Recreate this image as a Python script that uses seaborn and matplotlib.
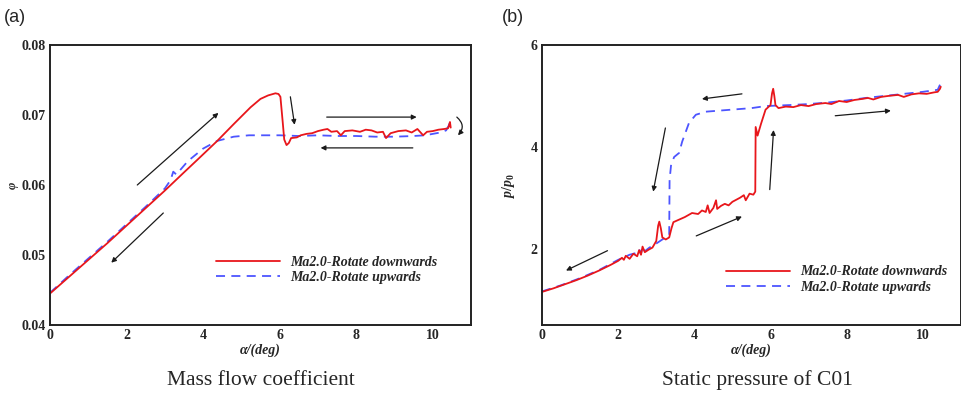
import numpy as np
import pandas as pd
import matplotlib
matplotlib.use("Agg")
import matplotlib.pyplot as plt
from matplotlib.ticker import MultipleLocator, FormatStrFormatter
from matplotlib.lines import Line2D
import seaborn as sns

# ---------------- data ----------------
# (a) mass flow coefficient
a_down_x = [0.0, 0.5, 1.0, 1.5, 2.0, 2.5, 3.0, 3.5, 3.85, 4.37, 4.8, 5.24, 5.5, 5.7, 5.89,
            5.97, 6.02, 6.08, 6.12, 6.18, 6.24, 6.3, 6.45, 6.55, 6.7, 6.85, 7.0, 7.15, 7.25,
            7.35, 7.5, 7.6, 7.7, 7.9, 8.1, 8.25, 8.4, 8.55, 8.7, 8.78, 8.9, 9.1, 9.3, 9.45,
            9.6, 9.75, 9.85, 10.0, 10.15, 10.3, 10.4, 10.42, 10.45, 10.47]
a_down_y = [0.0445, 0.0469, 0.0493, 0.0517, 0.0542, 0.0567, 0.0592, 0.0618, 0.0636, 0.0663,
            0.0687, 0.0711, 0.0723, 0.0728, 0.0731, 0.0730, 0.0726, 0.0690, 0.0665, 0.0657,
            0.0660, 0.0667, 0.0668, 0.0671, 0.0673, 0.0674, 0.0677, 0.0679, 0.0680, 0.0676,
            0.0677, 0.0671, 0.0677, 0.0678, 0.0676, 0.0679, 0.0678, 0.0675, 0.0676, 0.0667,
            0.0674, 0.0677, 0.0678, 0.0675, 0.0680, 0.0671, 0.0676, 0.0677, 0.0679, 0.0680,
            0.0681, 0.0684, 0.0690, 0.0682]
a_up_x = [0.0, 0.5, 1.0, 1.5, 2.0, 2.5, 3.0, 3.15, 3.22, 3.3, 3.6, 4.0, 4.37, 4.8, 5.2, 5.6,
          6.0, 6.5, 7.0, 7.5, 8.0, 8.5, 9.0, 9.5, 9.8, 10.0, 10.2, 10.35, 10.42, 10.45]
a_up_y = [0.0446, 0.0471, 0.0495, 0.0519, 0.0544, 0.0569, 0.0595, 0.0607, 0.0619, 0.0615,
          0.0634, 0.0652, 0.0663, 0.0669, 0.0671, 0.0671, 0.0671, 0.0670, 0.0671, 0.0670,
          0.0670, 0.0669, 0.0669, 0.0670, 0.0671, 0.0673, 0.0675, 0.0678, 0.0685, 0.0693]

# (b) static pressure of C01
b_down_x = [0.0, 0.3, 0.6, 0.9, 1.2, 1.5, 1.8, 2.0, 2.1, 2.15, 2.2, 2.3, 2.4, 2.5, 2.55, 2.6,
            2.64, 2.7, 2.8, 2.9, 3.0, 3.05, 3.08, 3.12, 3.16, 3.25, 3.34, 3.4, 3.45, 3.6,
            3.75, 3.94, 4.1, 4.2, 4.3, 4.35, 4.4, 4.5, 4.57, 4.6, 4.7, 4.8, 4.9, 5.0, 5.1,
            5.2, 5.3, 5.35, 5.45, 5.55, 5.6, 5.61, 5.66, 5.75, 5.87, 6.0, 6.04, 6.07, 6.1,
            6.13, 6.21, 6.4, 6.6, 6.8, 7.0, 7.2, 7.44, 7.6, 7.8, 8.0, 8.2, 8.4, 8.56, 8.7,
            8.9, 9.1, 9.35, 9.5, 9.7, 9.9, 10.1, 10.3, 10.39, 10.45, 10.47]
b_down_y = [1.15, 1.22, 1.30, 1.38, 1.47, 1.57, 1.68, 1.76, 1.82, 1.78, 1.86, 1.80, 1.90, 1.85,
            1.97, 1.88, 2.04, 1.93, 1.98, 2.02, 2.15, 2.45, 2.53, 2.40, 2.22, 2.18, 2.22, 2.40,
            2.52, 2.57, 2.62, 2.70, 2.68, 2.75, 2.72, 2.85, 2.70, 2.80, 2.95, 2.78, 2.84, 2.88,
            2.85, 2.92, 2.96, 3.00, 3.05, 2.95, 3.08, 3.06, 3.12, 4.39, 4.22, 4.45, 4.73, 4.82,
            5.05, 5.14, 5.00, 4.82, 4.76, 4.79, 4.78, 4.82, 4.80, 4.84, 4.86, 4.84, 4.90, 4.88,
            4.92, 4.94, 4.96, 4.93, 4.98, 5.00, 5.02, 4.98, 5.03, 5.05, 5.04, 5.07, 5.08, 5.14,
            5.18]
b_up_x = [0.0, 0.5, 1.0, 1.5, 2.0, 2.3, 2.5, 2.55, 2.6, 2.64, 2.7, 2.82, 3.0, 3.2, 3.34, 3.35,
          3.39, 3.47, 3.6, 3.68, 3.86, 4.04, 4.30, 4.98, 5.5, 5.87, 6.5, 7.0, 7.5, 8.0, 8.5,
          9.0, 9.5, 10.0, 10.39, 10.45]
b_up_y = [1.16, 1.28, 1.42, 1.58, 1.78, 1.88, 1.92, 1.99, 1.90, 2.04, 1.95, 2.02, 2.10, 2.20,
          2.27, 3.35, 3.65, 3.80, 3.88, 4.10, 4.47, 4.63, 4.69, 4.73, 4.76, 4.80, 4.82, 4.84,
          4.87, 4.91, 4.96, 5.00, 5.04, 5.08, 5.12, 5.22]

series_names = ["Ma2.0-Rotate downwards", "Ma2.0-Rotate upwards"]
panel_titles = ["Mass flow coefficient", "Static pressure of C01"]
panel_tags = ["(a)", "(b)"]

# annotation arrows: (start, end)
a_arrows = [((2.28, 0.0600), (4.40, 0.0703)), ((2.96, 0.0560), (1.60, 0.0489)),
            ((6.28, 0.0726), (6.39, 0.0686)), ((7.23, 0.0697), (9.58, 0.0697)),
            ((9.48, 0.0653), (7.07, 0.0653))]
a_curved = ((10.63, 0.0697), (10.66, 0.0671))
b_arrows = [((5.25, 5.04), (4.20, 4.94)), ((3.24, 4.37), (2.92, 3.12)),
            ((5.98, 3.16), (6.08, 4.33)), ((7.70, 4.61), (9.16, 4.71)),
            ((1.72, 1.96), (0.63, 1.57)), ((4.05, 2.25), (5.25, 2.63))]

# ---------------- style ----------------
sns.set_style("white")
plt.rcParams["font.family"] = ["Liberation Serif", "DejaVu Serif"]
plt.rcParams["mathtext.fontset"] = "custom"
plt.rcParams["mathtext.it"] = "Liberation Serif:bold:italic"
plt.rcParams["mathtext.rm"] = "Liberation Serif:bold"
plt.rcParams["mathtext.bf"] = "Liberation Serif:bold"

RED = "#e8161b"
BLUE = "#4d55ff"

fig = plt.figure(figsize=(9.62, 3.95), dpi=100)
ax1 = fig.add_axes([0.052, 0.1772, 0.4376, 0.7089])
ax2 = fig.add_axes([0.5634, 0.1772, 0.4355, 0.7089])


def make_df(dx, dy, ux, uy):
    d = pd.DataFrame({"x": dx, "y": dy, "s": series_names[0]})
    u = pd.DataFrame({"x": ux, "y": uy, "s": series_names[1]})
    return pd.concat([d, u], ignore_index=True)


dfa = make_df(a_down_x, a_down_y, a_up_x, a_up_y)
dfb = make_df(b_down_x, b_down_y, b_up_x, b_up_y)

pal = {series_names[0]: RED, series_names[1]: BLUE}
dsh = {series_names[0]: "", series_names[1]: (5, 3.5)}

for ax, df in [(ax1, dfa), (ax2, dfb)]:
    # draw upwards first so red on top
    sns.lineplot(data=df, x="x", y="y", hue="s", style="s", palette=pal, dashes=dsh,
                 hue_order=series_names[::-1], style_order=series_names[::-1],
                 sort=False, estimator=None, lw=1.3, ax=ax, legend=False)

for ax in (ax1, ax2):
    ax.set_xlim(0, 11)
    ax.xaxis.set_major_locator(MultipleLocator(2))
    ax.xaxis.set_minor_locator(MultipleLocator(0.5))
    ax.tick_params(which="both", direction="in", top=False, right=False,
                   labelsize=10, width=1)
    ax.tick_params(which="major", length=5, pad=3)
    ax.tick_params(which="minor", length=3)
    for sp in ax.spines.values():
        sp.set_linewidth(1.4)
        sp.set_color("#222222")
    ax.set_xlabel("α/(deg)", fontsize=10, fontweight="bold", fontstyle="italic", labelpad=1)

ax1.set_ylim(0.04, 0.08)
ax1.yaxis.set_major_locator(MultipleLocator(0.01))
ax1.yaxis.set_minor_locator(MultipleLocator(0.002))
ax1.yaxis.set_major_formatter(FormatStrFormatter("%.2f"))
ax1.set_ylabel("φ", fontsize=9, fontweight="bold", fontstyle="italic", labelpad=2)

ax2.set_ylim(0.5, 6)
ax2.yaxis.set_major_locator(MultipleLocator(2))
ax2.yaxis.set_minor_locator(MultipleLocator(0.5))
ax2.set_ylabel(r"$\mathit{p/p_0}$", fontsize=10, labelpad=10)

for ax in (ax1, ax2):
    for lab in ax.get_xticklabels() + ax.get_yticklabels():
        lab.set_fontweight("bold")

# arrows
akw = dict(arrowstyle="-|>", color="#1a1a1a", lw=0.9, mutation_scale=7,
           shrinkA=0, shrinkB=0)
for s, e in a_arrows:
    ax1.annotate("", xy=e, xytext=s, arrowprops=akw)
ax1.annotate("", xy=a_curved[1], xytext=a_curved[0],
             arrowprops=dict(akw, connectionstyle="arc3,rad=-0.5"))
for s, e in b_arrows:
    ax2.annotate("", xy=e, xytext=s, arrowprops=akw)

# legends
handles = [Line2D([], [], color=RED, lw=1.3),
           Line2D([], [], color=BLUE, lw=1.3, dashes=(5, 3.5))]
leg_kw = dict(frameon=False, handlelength=4.6, handletextpad=0.75, labelspacing=0.2,
              borderpad=0, borderaxespad=0,
              prop=dict(family="Liberation Serif", weight="bold", style="italic", size=10))
ax1.legend(handles, series_names, loc="upper left", bbox_to_anchor=(0.395, 0.248), **leg_kw)
ax2.legend(handles, series_names, loc="upper left", bbox_to_anchor=(0.44, 0.213), **leg_kw)

# panel tags and titles
fig.text(0.004, 0.955, panel_tags[0], fontsize=13, family="Liberation Sans", va="center")
fig.text(0.522, 0.955, panel_tags[1], fontsize=13, family="Liberation Sans", va="center")
fig.text(0.271, 0.037, panel_titles[0], fontsize=15.5, ha="center", va="center")
fig.text(0.787, 0.037, panel_titles[1], fontsize=15.5, ha="center", va="center")

fig.savefig("out.png", dpi=100)
